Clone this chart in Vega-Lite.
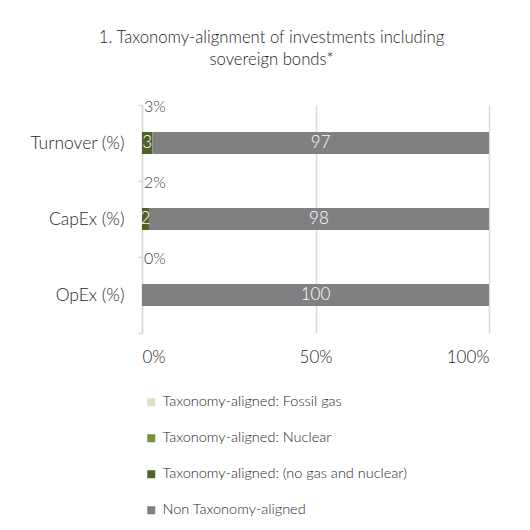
{
  "$schema": "https://vega.github.io/schema/vega-lite/v6.json",
  "width": 347,
  "height": 228,
  "autosize": {"type": "none"},
  "padding": {"left": 142, "top": 105, "right": 41, "bottom": 197},
  "background": "white",
  "config": {
    "font": "Lato",
    "view": {"stroke": null}
  },
  "title": {
    "text": ["1. Taxonomy-alignment of investments including", "sovereign bonds*"],
    "fontSize": 16.7,
    "fontWeight": 300,
    "color": "#262626",
    "lineHeight": 22,
    "anchor": "middle",
    "frame": "group",
    "dx": -44,
    "offset": 27
  },
  "datasets": {
    "bars": [
      {"category": "Turnover (%)", "series": "Taxonomy-aligned: Fossil gas", "value": 0},
      {"category": "Turnover (%)", "series": "Taxonomy-aligned: Nuclear", "value": 0},
      {"category": "Turnover (%)", "series": "Taxonomy-aligned: (no gas and nuclear)", "value": 3},
      {"category": "Turnover (%)", "series": "Non Taxonomy-aligned", "value": 97},
      {"category": "CapEx (%)", "series": "Taxonomy-aligned: Fossil gas", "value": 0},
      {"category": "CapEx (%)", "series": "Taxonomy-aligned: Nuclear", "value": 0},
      {"category": "CapEx (%)", "series": "Taxonomy-aligned: (no gas and nuclear)", "value": 2},
      {"category": "CapEx (%)", "series": "Non Taxonomy-aligned", "value": 98},
      {"category": "OpEx (%)", "series": "Taxonomy-aligned: Fossil gas", "value": 0},
      {"category": "OpEx (%)", "series": "Taxonomy-aligned: Nuclear", "value": 0},
      {"category": "OpEx (%)", "series": "Taxonomy-aligned: (no gas and nuclear)", "value": 0},
      {"category": "OpEx (%)", "series": "Non Taxonomy-aligned", "value": 100}
    ],
    "totals": [
      {"category": "Turnover (%)", "label": "3%"},
      {"category": "CapEx (%)", "label": "2%"},
      {"category": "OpEx (%)", "label": "0%"}
    ]
  },
  "data": {"name": "bars"},
  "layer": [
    {
      "mark": {"type": "bar", "size": 22},
      "encoding": {
        "y": {
          "field": "category",
          "type": "nominal",
          "sort": ["Turnover (%)", "CapEx (%)", "OpEx (%)"],
          "scale": {"paddingInner": 0, "paddingOuter": 0},
          "axis": {
            "title": null,
            "tickBand": "extent",
            "domainColor": "#d9d9d9",
            "domainWidth": 1.5,
            "tickColor": "#d9d9d9",
            "tickWidth": 1.5,
            "tickSize": 4,
            "labelFontSize": 17.5,
            "labelFontWeight": 300,
            "labelColor": "#262626",
            "labelPadding": 14,
            "labelFont": "Lato"
          }
        },
        "x": {
          "field": "value",
          "type": "quantitative",
          "aggregate": "sum",
          "stack": "zero",
          "scale": {"domain": [0, 100], "nice": false},
          "axis": {
            "title": null,
            "values": [0, 50, 100],
            "labelExpr": "datum.value + '%'",
            "domain": false,
            "ticks": false,
            "grid": true,
            "gridColor": "#d9d9d9",
            "gridWidth": 1.5,
            "labelFontSize": 17,
            "labelFontWeight": 300,
            "labelColor": "#262626",
            "labelPadding": 16,
            "labelFont": "Lato"
          }
        },
        "order": {"field": "series", "sort": "descending"},
        "color": {
          "field": "series",
          "type": "nominal",
          "scale": {
            "domain": ["Taxonomy-aligned: Fossil gas", "Taxonomy-aligned: Nuclear", "Taxonomy-aligned: (no gas and nuclear)", "Non Taxonomy-aligned"],
            "range": ["#d7e4bd", "#77933c", "#4f6228", "#808083"]
          },
          "legend": {
            "title": null,
            "orient": "none",
            "legendX": 2,
            "legendY": 290,
            "direction": "vertical",
            "symbolType": "square",
            "symbolSize": 64,
            "symbolStrokeWidth": 0,
            "labelFontSize": 14.5,
            "labelFontWeight": 300,
            "labelColor": "#262626",
            "labelFont": "Lato",
            "labelOffset": 4,
            "rowPadding": 21,
            "labelLimit": 400
          }
        }
      }
    },
    {
      "transform": [{"filter": "datum.value > 0"}],
      "mark": {"type": "text", "fontSize": 17, "fontWeight": 300, "color": "#ffffff", "baseline": "middle"},
      "encoding": {
        "y": {"field": "category", "type": "nominal", "sort": ["Turnover (%)", "CapEx (%)", "OpEx (%)"]},
        "x": {"field": "value", "type": "quantitative", "aggregate": "sum", "stack": "zero", "bandPosition": 0.5},
        "detail": {"field": "series", "type": "nominal"},
        "order": {"field": "series", "sort": "descending"},
        "text": {"field": "value", "type": "quantitative", "aggregate": "sum"}
      }
    },
    {
      "data": {"name": "totals"},
      "mark": {"type": "text", "fontSize": 16, "fontWeight": 300, "color": "#404040", "align": "left", "baseline": "middle", "dx": 2, "dy": 2},
      "encoding": {
        "y": {"field": "category", "type": "nominal", "sort": ["Turnover (%)", "CapEx (%)", "OpEx (%)"], "bandPosition": 0},
        "x": {"datum": 0, "type": "quantitative"},
        "text": {"field": "label", "type": "nominal"}
      }
    }
  ]
}
